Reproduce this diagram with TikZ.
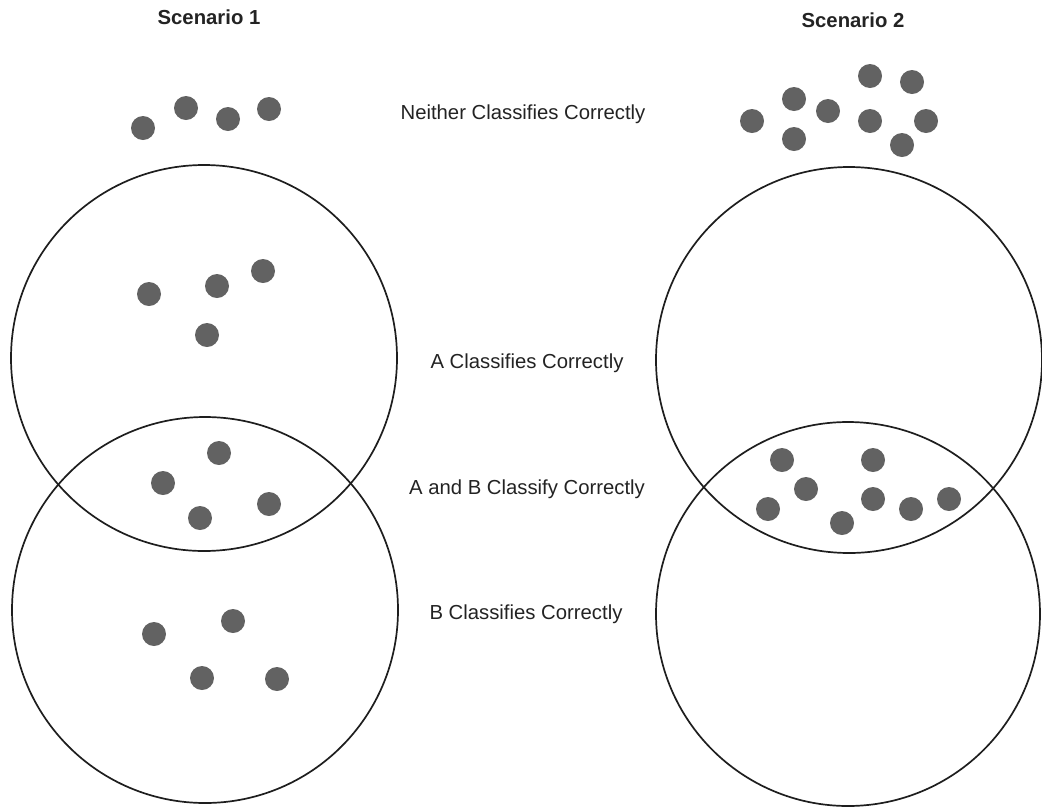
\documentclass[tikz,border=0pt]{standalone}
\usepackage{fontspec}
\setmainfont{Liberation Sans}
\begin{document}
\definecolor{inkline}{RGB}{30,30,30}
\definecolor{dotfill}{RGB}{98,98,98}
\definecolor{txt}{RGB}{35,35,35}
\begin{tikzpicture}[x=1pt,y=-1pt,
  setcircle/.style={circle,draw=inkline,line width=1.7pt,minimum size=386pt,inner sep=0pt},
  dot/.style={circle,fill=dotfill,minimum size=24pt,inner sep=0pt},
  label/.style={anchor=base,text=txt,font=\fontsize{20.3}{24}\selectfont,inner sep=0pt},
  title/.style={label,font=\fontsize{20.3}{24}\selectfont\bfseries}]
\useasboundingbox (0,0) rectangle (1042,807);

% titles
\node[title] (t1) at (209,24) {Scenario 1};
\node[title] (t2) at (853,27) {Scenario 2};

% region labels
\node[label] (lnone) at (523,119) {Neither Classifies Correctly};
\node[label] (la)    at (527,368) {A Classifies Correctly};
\node[label] (lab)   at (527,494) {A and B Classify Correctly};
\node[label] (lb)    at (526,619) {B Classifies Correctly};

% Scenario 1 sets
\node[setcircle] (a1) at (204,358) {};
\node[setcircle] (b1) at (205,610) {};
% Scenario 2 sets
\node[setcircle] (a2) at (849,360) {};
\node[setcircle,minimum size=384pt] (b2) at (848,614) {};

% Scenario 1 points
\foreach \x/\y [count=\i] in {143/128,186/108,228/119,269/109,
    149/294,217/286,263/271,207/335,
    219/453,163/483,200/518,269/504,
    154/634,233/621,202/678,277/679}
  \node[dot] (p1-\i) at (\x,\y) {};

% Scenario 2 points
\foreach \x/\y [count=\i] in {752/121,794/99,794/139,828/111,870/76,912/82,870/121,926/121,902/145,
    782/460,873/460,806/489,768/509,842/523,873/499,911/509,949/499}
  \node[dot] (p2-\i) at (\x,\y) {};
\end{tikzpicture}
\end{document}
